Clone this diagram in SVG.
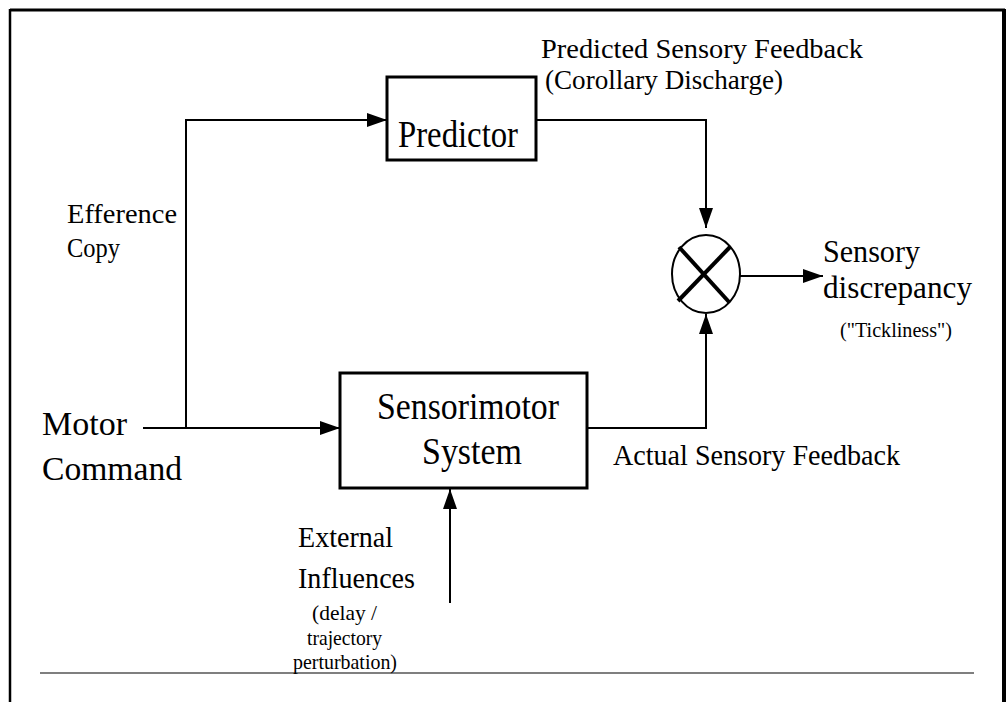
<svg xmlns="http://www.w3.org/2000/svg" width="1008" height="702" viewBox="0 0 1008 702">
<style>
text{font-family:"Liberation Serif","Times New Roman",serif;fill:#000}
.box{fill:#fff;stroke:#000;stroke-width:3}
.c{fill:none;stroke:#000;stroke-width:2}
</style>
<defs>
<marker id="ah" markerUnits="userSpaceOnUse" markerWidth="20" markerHeight="14" refX="20" refY="7" orient="auto">
<path d="M0,0 L20,7 L0,14 z" fill="#000"/>
</marker>
</defs>
<rect width="1008" height="702" fill="#fff"/>
<g id="frame">
<line x1="10" y1="10" x2="1005" y2="10" stroke="#000" stroke-width="3"/>
<line x1="10" y1="9" x2="10" y2="702" stroke="#000" stroke-width="2.5"/>
<line x1="1004" y1="9" x2="1004" y2="702" stroke="#000" stroke-width="4"/>
<line x1="40" y1="673" x2="974" y2="673" stroke="#555" stroke-width="1.5"/>
</g>
<g id="connectors">
<polyline class="c" points="143,428 186,428 186,120 387,120" marker-end="url(#ah)"/>
<line class="c" x1="186" y1="428" x2="340" y2="428" marker-end="url(#ah)"/>
<polyline class="c" points="536,120 706,120 706,228" marker-end="url(#ah)"/>
<polyline class="c" points="587,428 706,428 706,314" marker-end="url(#ah)"/>
<line class="c" x1="740" y1="276" x2="823" y2="276" marker-end="url(#ah)"/>
<line class="c" x1="450" y1="603" x2="450" y2="489" marker-end="url(#ah)"/>
</g>
<g id="predictor">
<rect class="box" x="387" y="77" width="149" height="83"/>
<text x="398" y="147" font-size="37" textLength="120" lengthAdjust="spacingAndGlyphs">Predictor</text>
</g>
<g id="sensorimotor">
<rect class="box" x="340" y="373" width="247" height="115"/>
<text x="377" y="419" font-size="37" textLength="182" lengthAdjust="spacingAndGlyphs">Sensorimotor</text>
<text x="422" y="464" font-size="37" textLength="100" lengthAdjust="spacingAndGlyphs">System</text>
</g>
<g id="comparator">
<ellipse cx="706" cy="274" rx="34" ry="39" fill="#fff" stroke="#000" stroke-width="2"/>
<line x1="679" y1="247" x2="729" y2="302" stroke="#000" stroke-width="4"/>
<line x1="730" y1="247" x2="678" y2="301" stroke="#000" stroke-width="4"/>
</g>
<g id="labels">
<text x="541" y="58" font-size="28" textLength="322" lengthAdjust="spacingAndGlyphs">Predicted Sensory Feedback</text>
<text x="545" y="89" font-size="28" textLength="238" lengthAdjust="spacingAndGlyphs">(Corollary Discharge)</text>
<text x="67" y="223" font-size="28" textLength="110" lengthAdjust="spacingAndGlyphs">Efference</text>
<text x="67" y="257" font-size="28" textLength="53" lengthAdjust="spacingAndGlyphs">Copy</text>
<text x="42" y="435" font-size="34" textLength="85" lengthAdjust="spacingAndGlyphs">Motor</text>
<text x="42" y="480" font-size="34" textLength="140" lengthAdjust="spacingAndGlyphs">Command</text>
<text x="613" y="465" font-size="30" textLength="287" lengthAdjust="spacingAndGlyphs">Actual Sensory Feedback</text>
<text x="823" y="262" font-size="32" textLength="97" lengthAdjust="spacingAndGlyphs">Sensory</text>
<text x="823" y="298" font-size="32" textLength="149" lengthAdjust="spacingAndGlyphs">discrepancy</text>
<text x="840" y="337" font-size="22" textLength="112" lengthAdjust="spacingAndGlyphs">("Tickliness")</text>
<text x="298" y="547" font-size="30" textLength="95" lengthAdjust="spacingAndGlyphs">External</text>
<text x="298" y="588" font-size="30" textLength="117" lengthAdjust="spacingAndGlyphs">Influences</text>
<text x="312" y="620" font-size="21" textLength="65" lengthAdjust="spacingAndGlyphs">(delay /</text>
<text x="307" y="645" font-size="21" textLength="75" lengthAdjust="spacingAndGlyphs">trajectory</text>
<text x="293" y="669" font-size="21" textLength="104" lengthAdjust="spacingAndGlyphs">perturbation)</text>
</g>
</svg>
